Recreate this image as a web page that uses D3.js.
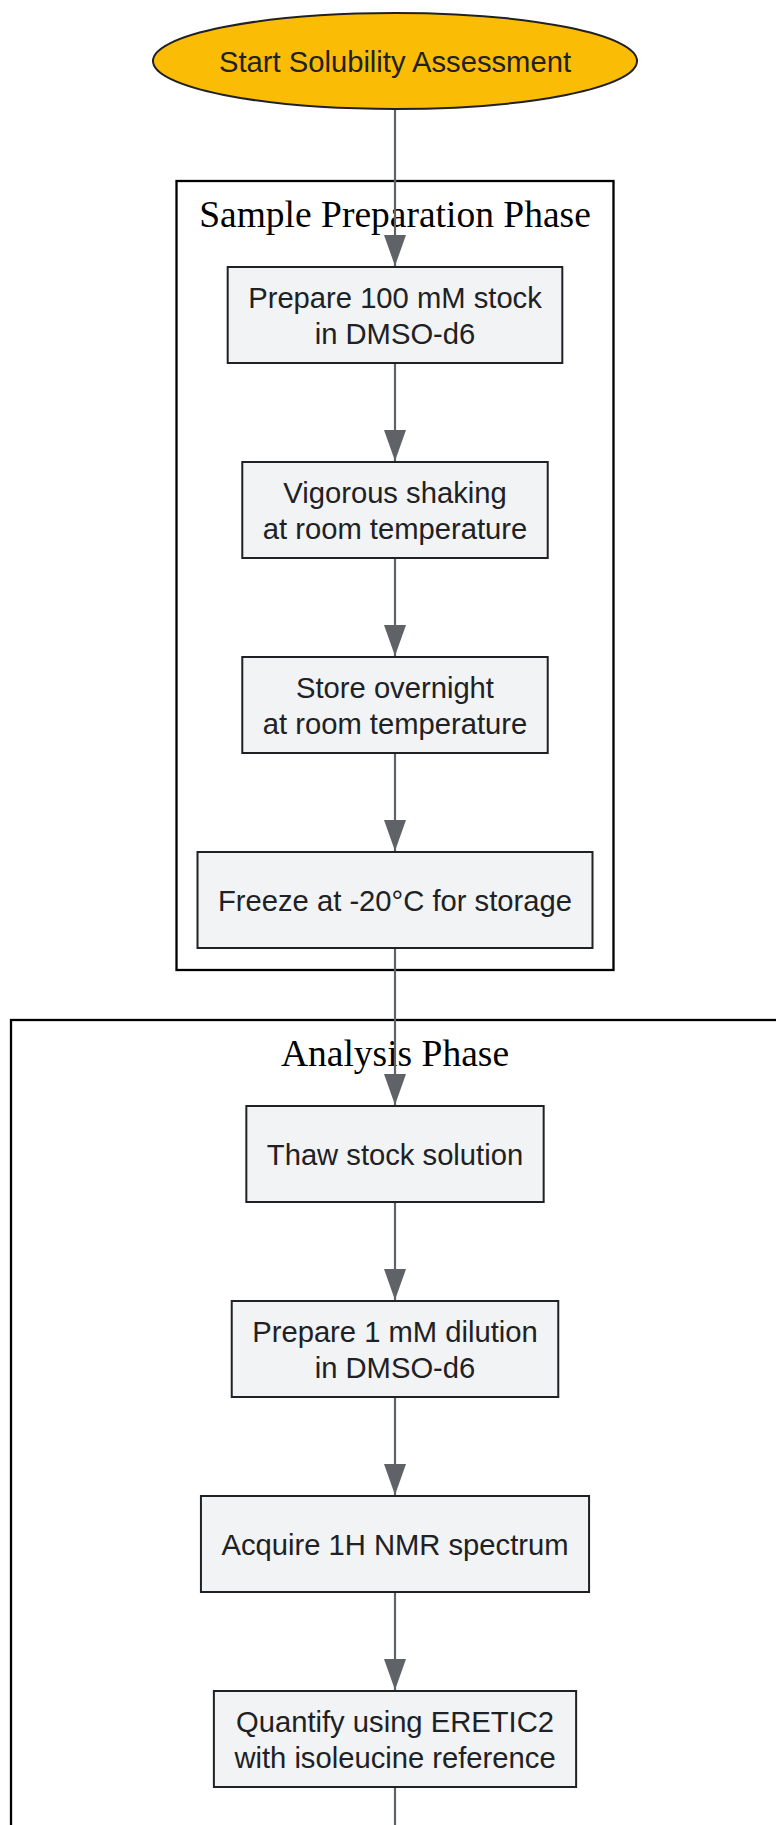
<!DOCTYPE html>
<html>
<head>
<meta charset="utf-8">
<script src="https://cdn.jsdelivr.net/npm/d3@7"></script>
<style>
  body { margin: 0; background: #fff; }
  svg { display: block; }
</style>
</head>
<body>
<div id="chart"></div>
<script>
// flow steps, top to bottom
var startLabel = "Start Solubility Assessment";
var stepLabels = [
    ["Prepare 100 mM stock", "in DMSO-d6"],
    ["Vigorous shaking", "at room temperature"],
    ["Store overnight", "at room temperature"],
    ["Freeze at -20°C for storage"],
    ["Thaw stock solution"],
    ["Prepare 1 mM dilution", "in DMSO-d6"],
    ["Acquire 1H NMR spectrum"],
    ["Quantify using ERETIC2", "with isoleucine reference"]
];
var clusterNames = ["Sample Preparation Phase", "Analysis Phase"];
var stepCluster = [0, 0, 0, 0, 1, 1, 1, 1];

var width = 776, height = 1825;
var cx = 395, rankStep = 195, clusterGap = 59, startY = 61;
var boxH = 96, fontSize = 29.2, lineH = 36;
var textColor = "#202124", edgeColor = "#5f6368";

var svg = d3.select("#chart").append("svg")
    .attr("width", width).attr("height", height)
    .style("font-family", "Arial, 'Liberation Sans', sans-serif");

svg.append("defs").append("marker")
    .attr("id", "arrow")
    .attr("markerUnits", "userSpaceOnUse")
    .attr("viewBox", "0 0 31 22")
    .attr("markerWidth", 31).attr("markerHeight", 22)
    .attr("refX", 31).attr("refY", 11)
    .attr("orient", "auto")
    .append("path")
    .attr("d", "M0,0L31,11L0,22Z")
    .attr("fill", edgeColor);

// rank -> y of node centre
var y = d3.scaleLinear().domain([0, 1]).range([startY, startY + rankStep]);
function nodeY(i) {
    return y(i + 1) + clusterGap * (stepCluster[i] + 1);
}

// measure text widths to size the boxes
var measure = svg.append("text").attr("font-size", fontSize);
function textW(s) { measure.text(s); return measure.node().getComputedTextLength(); }

var nodes = stepLabels.map(function(lines, i) {
    var w = d3.max(lines, textW) + 41;
    return { lines: lines, cy: nodeY(i), w: w, cluster: stepCluster[i] };
});
var startW = textW(startLabel);
measure.remove();

// clusters (the analysis one keeps going below the picture)
var clusters = clusterNames.map(function(name, k) {
    var kids = nodes.filter(function(n) { return n.cluster === k; });
    var top = d3.min(kids, function(n) { return n.cy - boxH / 2; }) - 86;
    var bottom = k === 0 ? d3.max(kids, function(n) { return n.cy + boxH / 2; }) + 22 : height + 20;
    var half = k === 0 ? d3.max(kids, function(n) { return n.w / 2; }) + 21 : 384;
    return { name: name, x0: cx - half, x1: cx + half, y0: top, y1: bottom };
});

var cg = svg.append("g").selectAll("g").data(clusters).join("g");
cg.append("rect")
    .attr("x", function(d) { return d.x0; })
    .attr("y", function(d) { return d.y0; })
    .attr("width", function(d) { return d.x1 - d.x0; })
    .attr("height", function(d) { return d.y1 - d.y0; })
    .attr("fill", "none").attr("stroke", "#000").attr("stroke-width", 2.3);
cg.append("text")
    .attr("x", cx)
    .attr("y", function(d) { return d.y0 + 46; })
    .attr("text-anchor", "middle")
    .attr("font-family", "'Times New Roman', 'Liberation Serif', serif")
    .attr("font-size", 37.5)
    .attr("fill", "#000")
    .text(function(d) { return d.name; });

// edges
var ry = 48;
var edges = [];
edges.push({ y0: startY + ry, y1: nodes[0].cy - boxH / 2 });
for (var i = 0; i < nodes.length - 1; i++) {
    edges.push({ y0: nodes[i].cy + boxH / 2, y1: nodes[i + 1].cy - boxH / 2 });
}
svg.append("g").selectAll("line").data(edges).join("line")
    .attr("x1", cx).attr("x2", cx)
    .attr("y1", function(d) { return d.y0; })
    .attr("y2", function(d) { return d.y1 - 1; })
    .attr("stroke", edgeColor).attr("stroke-width", 2.2)
    .attr("marker-end", "url(#arrow)");
// last edge runs off the bottom
svg.append("line")
    .attr("x1", cx).attr("x2", cx)
    .attr("y1", nodes[nodes.length - 1].cy + boxH / 2).attr("y2", height)
    .attr("stroke", edgeColor).attr("stroke-width", 2.2);

// start node
svg.append("ellipse")
    .attr("cx", cx).attr("cy", startY)
    .attr("rx", startW / 2 + 66).attr("ry", ry)
    .attr("fill", "#fbbc05").attr("stroke", textColor).attr("stroke-width", 2);
svg.append("text")
    .attr("x", cx).attr("y", startY + 10.5)
    .attr("text-anchor", "middle")
    .attr("font-size", fontSize).attr("fill", textColor)
    .text(startLabel);

// step boxes
var ng = svg.append("g").selectAll("g").data(nodes).join("g");
ng.append("rect")
    .attr("x", function(d) { return cx - d.w / 2; })
    .attr("y", function(d) { return d.cy - boxH / 2; })
    .attr("width", function(d) { return d.w; })
    .attr("height", boxH)
    .attr("fill", "#f1f3f4").attr("stroke", textColor).attr("stroke-width", 2);
ng.each(function(d) {
    var n = d.lines.length;
    d3.select(this).selectAll("text").data(d.lines).join("text")
        .attr("x", cx)
        .attr("y", function(s, j) { return d.cy + 10.5 + (j - (n - 1) / 2) * lineH; })
        .attr("text-anchor", "middle")
        .attr("font-size", fontSize).attr("fill", textColor)
        .text(function(s) { return s; });
});
</script>
</body>
</html>
